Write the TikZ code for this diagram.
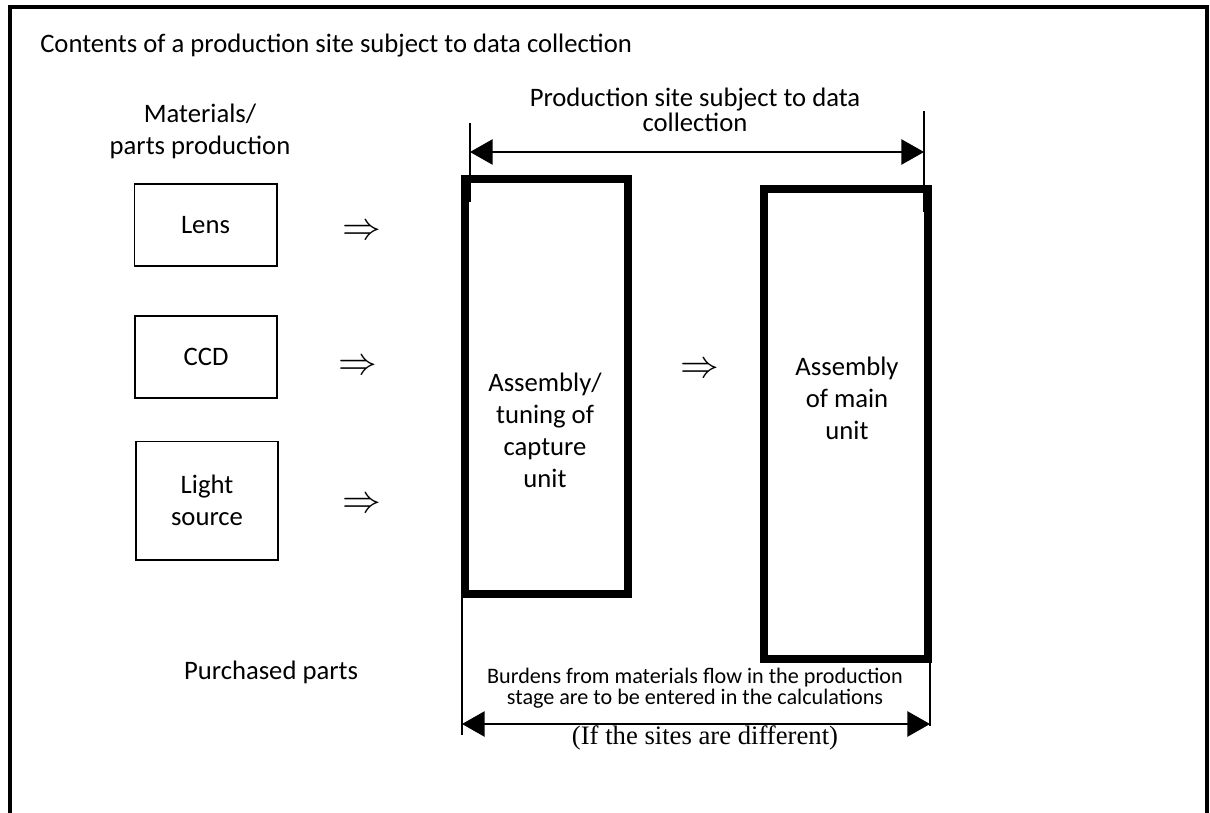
\documentclass[tikz,border=0pt]{standalone}
\usepackage{fontspec}
\setmainfont{Carlito}
\newfontfamily\notefont{Liberation Serif}
\usepackage{graphicx}
\usepackage{tikz}
\usetikzlibrary{arrows.meta,positioning}
\definecolor{ink}{HTML}{000000}
\newcommand{\flowarrow}{\scalebox{1.4}{$\Rightarrow$}}
\tikzset{
  >={Triangle[length=17pt,width=19pt]},
  dimline/.style={<->,line width=1.1pt,draw=ink},
  extline/.style={line width=1.1pt,draw=ink},
  partbox/.style={draw=ink,line width=1pt,align=center,inner sep=0pt,
    font=\fontsize{20}{24}\selectfont},
  sitebox/.style={draw=ink,line width=6pt,inner sep=0pt},
  lbl/.style={align=center,inner sep=0pt,font=\fontsize{20}{24}\selectfont},
  flowsym/.style={inner sep=0pt,font=\fontsize{20}{24}\selectfont}
}

\begin{document}
\begin{tikzpicture}[x=0.75pt,y=-0.75pt]
  \useasboundingbox (0,0) rectangle (1210,813);
  % outer frame, open at the bottom
  \draw[ink,line width=3.5pt] (10,813) -- (10,7) -- (1207,7) -- (1207,813);
  \node[lbl,anchor=base west] (title) at (40,53) {Contents of a production site subject to data collection};
  \node[lbl] (mat) at (200,131) {Materials/\\parts production};

  % purchased parts
  \node[partbox,minimum width=107pt,minimum height=61.5pt] (lens) at (205.5,225) {Lens};
  \node[partbox,minimum width=106.5pt,minimum height=61.5pt] (ccd) at (206,357) {CCD};
  \node[partbox,minimum width=106.5pt,minimum height=89pt] (light) at (207,500.5) {Light\\source};
  \node[flowsym] (f1) at (362,232) {\flowarrow};
  \node[flowsym] (f2) at (358,367) {\flowarrow};
  \node[flowsym] (f3) at (362,505) {\flowarrow};
  \node[lbl] (pp) at (271,672) {Purchased parts};

  % production site
  \node[sitebox,minimum width=122.6pt,minimum height=311.3pt] (cap) at (546.25,386.5) {};
  \node[sitebox,minimum width=123pt,minimum height=352.5pt] (main) at (845.5,424) {};
  \node[lbl] (capt) at (545,430) {Assembly/\\tuning of\\capture\\unit};
  \node[lbl] (maint) at (847,398) {Assembly\\of main\\unit};
  \node[flowsym] (f4) at (700,370) {\flowarrow};

  % dimension above
  \node[lbl,font=\fontsize{20}{19}\selectfont] (site) at (695,110) {Production site subject to data\\collection};
  \coordinate (ta) at (470,123); \coordinate (tb) at (470,202);
  \coordinate (tc) at (924,111); \coordinate (td) at (924,212);
  \coordinate (tl) at (470,152); \coordinate (tr) at (924,152);
  \draw[extline] (ta) -- (tb);
  \draw[extline] (tc) -- (td);
  \draw[dimline] (tl) -- (tr);

  % dimension below
  \coordinate (ba) at (462,598); \coordinate (bb) at (462,735);
  \coordinate (bc) at (930,663); \coordinate (bd) at (930,726);
  \coordinate (bl) at (462,724); \coordinate (br) at (930,724);
  \draw[extline] (ba) -- (bb);
  \draw[extline] (bc) -- (bd);
  \draw[dimline] (bl) -- (br);
  \node[lbl,font=\fontsize{16.6}{15.8}\selectfont] (burd) at (695,688) {Burdens from materials flow in the production\\stage are to be entered in the calculations};
  \node[lbl,font=\notefont\fontsize{20}{24}\selectfont] (diff) at (705,738) {(If the sites are different)};
\end{tikzpicture}
\end{document}
